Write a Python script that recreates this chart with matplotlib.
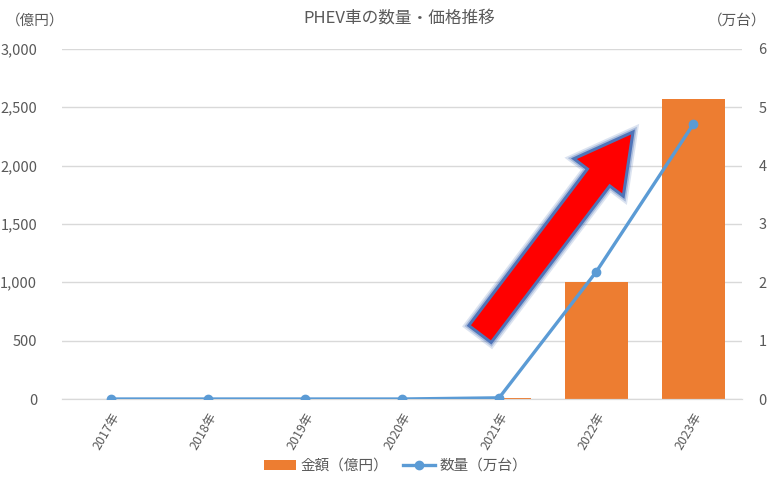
import numpy as np
import matplotlib
matplotlib.use('Agg')
import matplotlib.pyplot as plt
from matplotlib.patches import FancyArrow
from matplotlib.transforms import IdentityTransform
from matplotlib.ticker import FuncFormatter

plt.rcParams['font.family'] = ['Noto Sans CJK JP', 'DejaVu Sans']

years = ['2017年', '2018年', '2019年', '2020年', '2021年', '2022年', '2023年']
amount = [0, 0, 0, 0, 10, 1000, 2570]          # 金額（億円）
volume = [0, 0, 0, 0, 0.02, 2.18, 4.71]        # 数量（万台）

ORANGE = '#ED7D31'
BLUE = '#5B9BD5'
GRAY = '#595959'
GRID = '#D9D9D9'

fig = plt.figure(figsize=(7.68, 4.79), dpi=100)
ax = fig.add_axes([0.081, 0.167, 0.885, 0.731])
ax2 = ax.twinx()

x = np.arange(len(years))
ax.bar(x, amount, width=0.65, color=ORANGE, label='金額（億円）', zorder=2)
ax2.plot(x, volume, color=BLUE, lw=2.4, marker='o', ms=6, label='数量（万台）', zorder=3)

ax.set_xlim(-0.5, len(years) - 0.5)
ax.set_ylim(0, 3000)
ax.set_yticks(np.arange(0, 3001, 500))
ax.yaxis.set_major_formatter(FuncFormatter(lambda v, p: f'{int(v):,}'))
ax2.set_ylim(0, 6)
ax2.set_yticks(range(0, 7))

ax.set_xticks(x)
ax.set_xticklabels(years, rotation=60, ha='right', rotation_mode='anchor', fontsize=9, color=GRAY)
ax.tick_params(axis='x', length=0, pad=8)
ax.tick_params(axis='y', length=0, labelsize=10.5, labelcolor=GRAY, pad=18)
ax2.tick_params(axis='y', length=0, labelsize=10.5, labelcolor=GRAY, pad=12)

ax.grid(axis='y', color=GRID, lw=1, zorder=0)
ax.set_axisbelow(True)
for a in (ax, ax2):
  for s in ('top', 'left', 'right'):
    a.spines[s].set_visible(False)
  a.spines['bottom'].set_color(GRID)
ax.set_zorder(1)
ax2.set_zorder(2)
ax.patch.set_visible(False)

fig.text(0.52, 0.962, 'PHEV車の数量・価格推移', ha='center', va='center', fontsize=12, color=GRAY)
fig.text(0.008, 0.958, '（億円）', ha='left', va='center', fontsize=10.5, color=GRAY)
fig.text(0.998, 0.958, '（万台）', ha='right', va='center', fontsize=10.5, color=GRAY)

# legend
h1, l1 = ax.get_legend_handles_labels()
h2, l2 = ax2.get_legend_handles_labels()
fig.legend(h1 + h2, l1 + l2, loc='center', bbox_to_anchor=(0.515, 0.027), ncol=2,
           frameon=False, fontsize=10.5, labelcolor=GRAY, handlelength=2.2,
           handletextpad=0.3, columnspacing=1.0)

# red arrow (pixel coordinates), soft blue edge
for lw, alpha in ((7, 0.2), (4.5, 0.35), (2.2, 1.0)):
  arr = FancyArrow(480, 479 - 334, 153, 202, width=28, head_width=62, head_length=57,
                   length_includes_head=True, transform=IdentityTransform(),
                   facecolor='#FF0000', edgecolor='#4F74B8', lw=lw, alpha=alpha,
                   zorder=5)
  fig.patches.append(arr)
  arr.set_figure(fig)

fig.savefig('out.png', dpi=100)
